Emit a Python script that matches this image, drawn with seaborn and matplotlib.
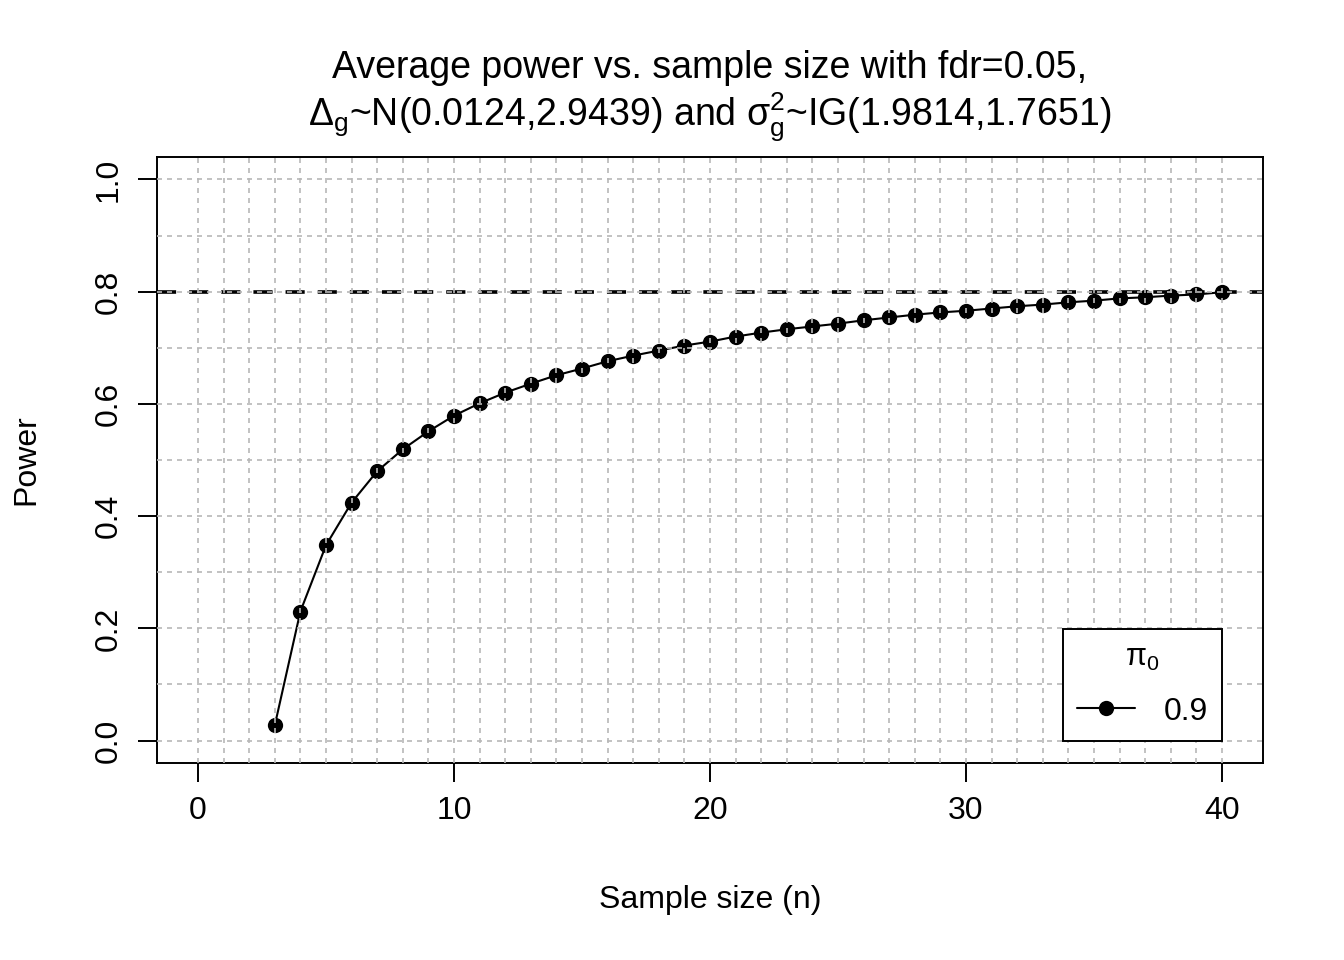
import matplotlib
matplotlib.use("Agg")
import matplotlib.pyplot as plt
from matplotlib.ticker import FixedLocator
import seaborn as sns
import pandas as pd

sample_size = list(range(3, 41))
power = [0.027, 0.230, 0.348, 0.424, 0.480, 0.519, 0.551, 0.579, 0.601, 0.620,
         0.636, 0.651, 0.663, 0.676, 0.686, 0.695, 0.704, 0.711, 0.720, 0.727,
         0.733, 0.738, 0.743, 0.749, 0.754, 0.759, 0.763, 0.766, 0.770, 0.774,
         0.777, 0.781, 0.784, 0.788, 0.790, 0.793, 0.795, 0.799]
pi0_label = "0.9"
target_power = 0.8
x_ticks = [0, 10, 20, 30, 40]
y_ticks = [0.0, 0.2, 0.4, 0.6, 0.8, 1.0]
y_tick_labels = ["0.0", "0.2", "0.4", "0.6", "0.8", "1.0"]
x_grid = list(range(0, 41))
y_grid = [i / 10 for i in range(0, 11)]

sns.set_theme(style="white")
plt.rcParams["font.family"] = ["Liberation Sans", "DejaVu Sans"]
plt.rcParams["mathtext.fontset"] = "custom"
plt.rcParams["mathtext.rm"] = "Liberation Sans"
plt.rcParams["mathtext.it"] = "Liberation Sans:italic"
plt.rcParams["mathtext.sf"] = "Liberation Sans"
for k in ["text.color", "axes.labelcolor", "xtick.color", "ytick.color"]:
    plt.rcParams[k] = "black"

df = pd.DataFrame({"n": sample_size, "power": power})

fig = plt.figure(figsize=(13.44, 9.6), dpi=100)
ax = fig.add_axes([157/1344, 1 - 763/960, (1263-157)/1344, (763-157)/960])

sns.lineplot(data=df, x="n", y="power", ax=ax, color="black", marker="o",
             markersize=11, markeredgewidth=0, linewidth=1.5, label=pi0_label,
             legend=False)
ax.axhline(target_power, color="black", linewidth=2.6, dashes=(5.3, 3.6), zorder=1.5)

ax.set_xlim(-1.6, 41.6)
ax.set_ylim(-0.04, 1.04)

ax.xaxis.set_major_locator(FixedLocator(x_ticks))
ax.yaxis.set_major_locator(FixedLocator(y_ticks))
ax.set_yticklabels(y_tick_labels, rotation=90, va="center")
ax.xaxis.set_minor_locator(FixedLocator(x_grid))
ax.yaxis.set_minor_locator(FixedLocator(y_grid))

ax.tick_params(axis="both", which="major", length=14, width=1.4, color="black",
               labelsize=23, direction="out", bottom=True, left=True, pad=10)
ax.tick_params(axis="both", which="minor", length=0)
ax.set_axisbelow(False)
ax.grid(True, which="both", color="#b8b8b8", linewidth=1.2, dashes=(3, 3))

for sp in ax.spines.values():
    sp.set_visible(True)
    sp.set_color("black")
    sp.set_linewidth(1.4)

ax.set_xlabel("Sample size (n)", fontsize=23, labelpad=42)
ax.set_ylabel("Power", fontsize=23, labelpad=38)

fig.text(710/1344, 1 - 68/960, "Average power vs. sample size with fdr=0.05,",
         ha="center", va="center", fontsize=27)
fig.text(710/1344, 1 - 117/960,
         r"Δ$_{\mathrm{g}}$~N(0.0124,2.9439) and σ$^{2}_{\mathrm{g}}$~IG(1.9814,1.7651)",
         ha="center", va="center", fontsize=27)

leg = ax.legend(title=r"π$_{\mathrm{0}}$", loc="lower right",
                bbox_to_anchor=((1222-157)/1106, (763-741)/606),
                borderaxespad=0, fancybox=False, framealpha=1, edgecolor="black",
                fontsize=23, title_fontsize=22, handlelength=1.8, handletextpad=0.9,
                borderpad=0.45, labelspacing=0.3)
leg.get_frame().set_linewidth(1.4)
leg._legend_box.sep = 17

fig.savefig("out.png", dpi=100, facecolor="white")
